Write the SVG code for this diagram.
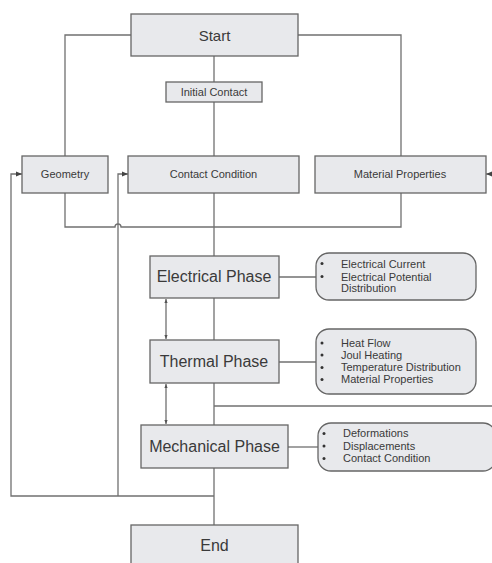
<svg xmlns="http://www.w3.org/2000/svg" width="492" height="563" viewBox="0 0 492 563">
<defs>
<marker id="ah" viewBox="0 0 10 10" refX="10" refY="5" markerWidth="6" markerHeight="6" orient="auto-start-reverse" markerUnits="userSpaceOnUse">
<path d="M0,1 L10,5 L0,9 z" fill="#444"/>
</marker>
<marker id="sh" viewBox="0 0 10 10" refX="10" refY="5" markerWidth="4" markerHeight="4" orient="auto-start-reverse" markerUnits="userSpaceOnUse">
<path d="M0,1 L10,5 L0,9 z" fill="#555"/>
</marker>
</defs>
<style>
.box{fill:#e8e9ec;stroke:#666;stroke-width:1.3}
.note{fill:#e8e9ec;stroke:#666;stroke-width:1.3}
.ln{fill:none;stroke:#707070;stroke-width:1.3}
text{font-family:"Liberation Sans",Arial,sans-serif;fill:#3a3a3a}
.big{font-size:16px;text-anchor:middle}
.sm{font-size:11px;text-anchor:middle}
.bt{font-size:11px}
.dot{fill:#333}
</style>
<rect width="492" height="563" fill="#fff"/>
<g id="connectors">
<path class="ln" d="M131,35 H65 V156"/>
<path class="ln" d="M298,35 H401 V156"/>
<path class="ln" d="M214,56 V82"/>
<path class="ln" d="M214,102 V156"/>
<path class="ln" d="M65,193 V227 H115 A3,3 0 0 1 121,227 H401 V193"/>
<path class="ln" d="M214,193 V256"/>
<path class="ln" d="M279,277 H316"/>
<path class="ln" d="M214,298 V340"/>
<path class="ln" d="M279,362 H316"/>
<path class="ln" d="M214,383 V425"/>
<path class="ln" d="M214,406 H492"/>
<path class="ln" d="M288,447 H318"/>
<path class="ln" d="M214,468 V525"/>
<path class="ln" d="M214,496 H11 V174 H22" marker-end="url(#ah)"/>
<path class="ln" d="M118,496 V174 H128" marker-end="url(#ah)"/>
<path class="ln" d="M492,174 H486" marker-end="url(#ah)"/>
<path class="ln" d="M166,299 V339" marker-start="url(#sh)" marker-end="url(#sh)" stroke-width="1"/>
<path class="ln" d="M166,384 V424" marker-start="url(#sh)" marker-end="url(#sh)" stroke-width="1"/>
</g>
<g id="start"><rect class="box" x="131" y="14" width="167" height="42"/><text class="big" x="214.5" y="40.5" style="font-size:15px">Start</text></g>
<g id="initial-contact"><rect class="box" x="166" y="82" width="96" height="20"/><text class="sm" x="214" y="95.5">Initial Contact</text></g>
<g id="geometry"><rect class="box" x="22" y="156" width="86" height="37"/><text class="sm" x="65" y="177.5">Geometry</text></g>
<g id="contact-condition"><rect class="box" x="128" y="156" width="171" height="37"/><text class="sm" x="213.5" y="177.5">Contact Condition</text></g>
<g id="material-properties"><rect class="box" x="315" y="156" width="171" height="37"/><text class="sm" x="400" y="177.5">Material Properties</text></g>
<g id="electrical-phase"><rect class="box" x="150" y="256" width="129" height="42"/><text class="big" x="214" y="282">Electrical Phase</text></g>
<g id="electrical-notes"><rect class="note" x="316" y="253" width="160" height="47" rx="13"/>
<circle class="dot" cx="322" cy="263.5" r="1.5"/><text class="bt" x="341" y="267.5">Electrical Current</text>
<circle class="dot" cx="322" cy="276.5" r="1.5"/><text class="bt" x="341" y="280.5">Electrical Potential</text>
<text class="bt" x="341" y="292">Distribution</text></g>
<g id="thermal-phase"><rect class="box" x="150" y="340" width="129" height="43"/><text class="big" x="214" y="367">Thermal Phase</text></g>
<g id="thermal-notes"><rect class="note" x="316" y="329" width="160" height="65" rx="13"/>
<circle class="dot" cx="322" cy="343" r="1.5"/><text class="bt" x="341" y="346.8">Heat Flow</text>
<circle class="dot" cx="322" cy="355" r="1.5"/><text class="bt" x="341" y="358.8">Joul Heating</text>
<circle class="dot" cx="322" cy="367.5" r="1.5"/><text class="bt" x="341" y="371.3">Temperature Distribution</text>
<circle class="dot" cx="322" cy="379.5" r="1.5"/><text class="bt" x="341" y="383.3">Material Properties</text></g>
<g id="mechanical-phase"><rect class="box" x="141" y="425" width="147" height="43"/><text class="big" x="214.5" y="452">Mechanical Phase</text></g>
<g id="mechanical-notes"><rect class="note" x="318" y="423" width="178" height="48" rx="13"/>
<circle class="dot" cx="324" cy="433.5" r="1.5"/><text class="bt" x="343" y="437.3">Deformations</text>
<circle class="dot" cx="324" cy="446" r="1.5"/><text class="bt" x="343" y="450">Displacements</text>
<circle class="dot" cx="324" cy="458.5" r="1.5"/><text class="bt" x="343" y="462.3">Contact Condition</text></g>
<g id="end"><rect class="box" x="131" y="525" width="167" height="45"/><text class="big" x="214.5" y="551">End</text></g>
</svg>
